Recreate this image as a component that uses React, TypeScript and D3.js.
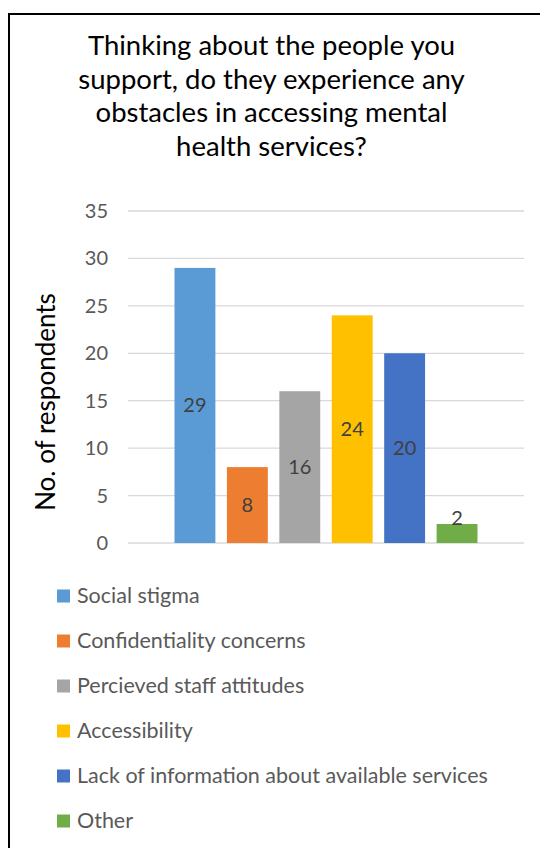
import React from "react";
import * as d3 from "d3";

const titleLines = [
  "Thinking about the people you",
  "support, do they experience any",
  "obstacles in accessing mental",
  "health services?",
];
const seriesNames = [
  "Social stigma",
  "Confidentiality concerns",
  "Percieved staff attitudes",
  "Accessibility",
  "Lack of information about available services",
  "Other",
];
const seriesValues = [29, 8, 16, 24, 20, 2];
const seriesColors = ["#5B9BD5", "#ED7D31", "#A5A5A5", "#FFC000", "#4472C4", "#70AD47"];
const yTicks = [0, 5, 10, 15, 20, 25, 30, 35];
const yAxisTitle = "No. of respondents";

const W = 540;
const H = 848;
const FONT = "Lato, 'Open Sans', sans-serif";

export default function App() {
  const plotLeft = 128;
  const plotRight = 524;
  const plotTop = 211;
  const plotBottom = 543;

  const y = d3.scaleLinear().domain([0, 35]).range([plotBottom, plotTop]);
  const x = d3
    .scaleBand<string>()
    .domain(seriesNames)
    .range([plotLeft, plotRight])
    .paddingInner(0.22)
    .paddingOuter(0.887);

  const legendTop = 596;
  const legendStep = 45;

  return (
    <svg
      width={W}
      height={H}
      style={{ position: "absolute", left: 0, top: 0, background: "#fff" }}
      fontFamily={FONT}
    >
      <rect x={0} y={0} width={W} height={H} fill="#fff" />
      <rect x={9} y={14} width={W + 20} height={H + 20} fill="#fff" stroke="#000" strokeWidth={2} />

      {titleLines.map((t, i) => (
        <text key={t} x={271.5} y={55 + i * 33.5} textAnchor="middle" fontSize={27.5} fill="#000">
          {t}
        </text>
      ))}

      {yTicks.map((t) => (
        <g key={t}>
          <line x1={plotLeft} x2={plotRight} y1={y(t)} y2={y(t)} stroke="#D9D9D9" strokeWidth={1.3} />
          <text x={108} y={y(t) + 7} textAnchor="end" fontSize={20} fill="#595959">
            {t}
          </text>
        </g>
      ))}

      <text
        transform={`translate(55, ${402}) rotate(-90)`}
        textAnchor="middle"
        fontSize={26}
        fill="#000"
      >
        {yAxisTitle}
      </text>

      {seriesNames.map((s, i) => {
        const v = seriesValues[i];
        const bx = x(s)!;
        const bw = x.bandwidth();
        const h = y(0) - y(v);
        const cy = h < 22 ? y(v) - 6 : y(v / 2);
        return (
          <g key={s}>
            <rect x={bx} y={y(v)} width={bw} height={h} fill={seriesColors[i]} />
            <text x={bx + bw / 2} y={cy + 7} textAnchor="middle" fontSize={20} fill="#404040">
              {v}
            </text>
          </g>
        );
      })}

      {seriesNames.map((s, i) => (
        <g key={"lg" + s} transform={`translate(57, ${legendTop + i * legendStep})`}>
          <rect x={0} y={-6.5} width={13} height={13} fill={seriesColors[i]} />
          <text x={20} y={7} fontSize={21.5} fill="#595959">
            {s}
          </text>
        </g>
      ))}
    </svg>
  );
}
